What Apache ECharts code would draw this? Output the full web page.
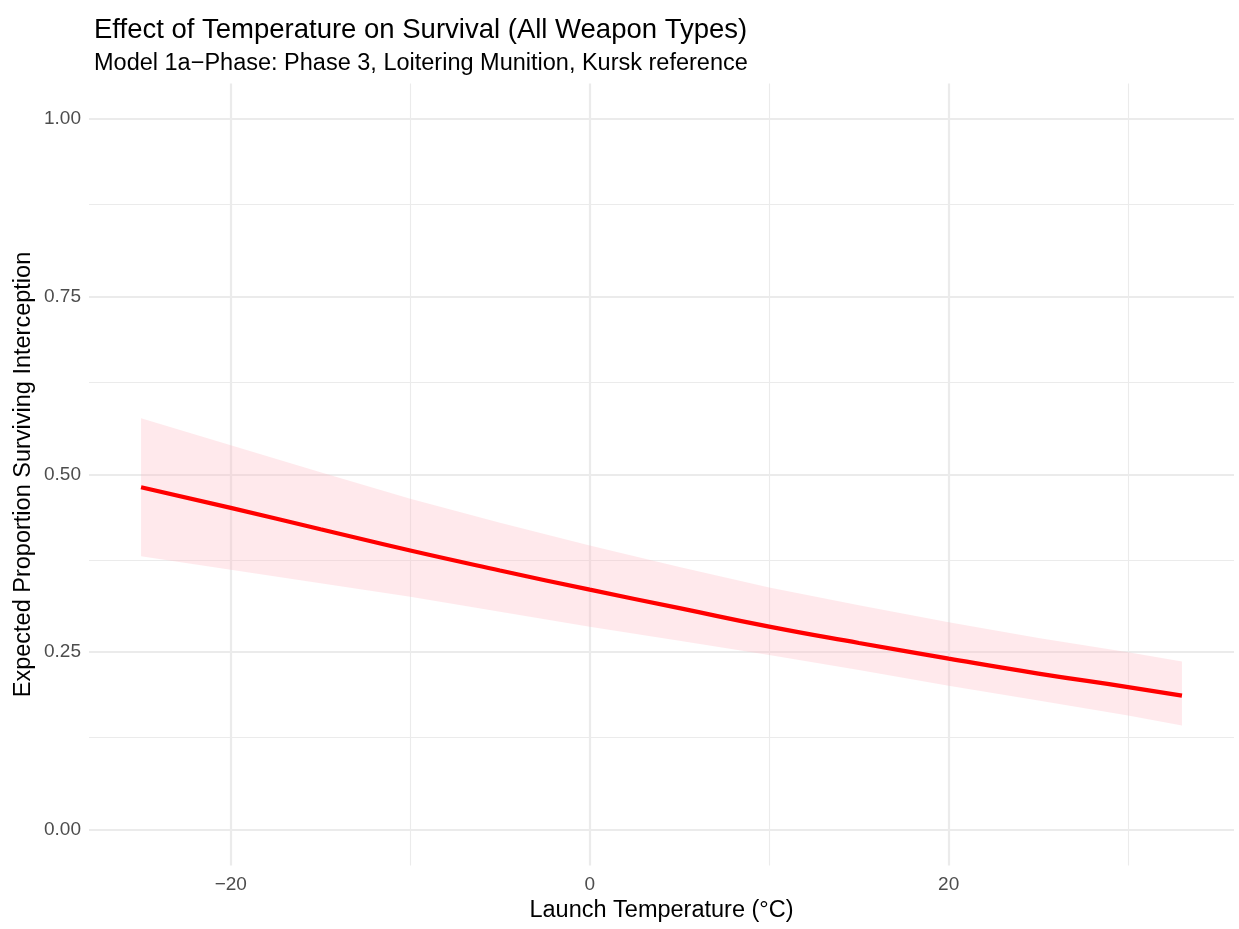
<!DOCTYPE html>
<html>
<head>
<meta charset="utf-8">
<title>Effect of Temperature on Survival</title>
<script src="https://cdn.jsdelivr.net/npm/echarts@6/dist/echarts.min.js"></script>
<style>
  html, body { margin: 0; padding: 0; background: #ffffff; }
  #chart { width: 1239px; height: 929px; }
</style>
</head>
<body>
<div id="chart"></div>
<script>
// Launch temperature (°C) and the predicted survival with its confidence band
const temps = [-25, -20, -15, -10, -5, 0, 5, 10, 15, 20, 25, 30, 33];
const fit   = [0.482, 0.453, 0.423, 0.393, 0.365, 0.338, 0.312, 0.286, 0.263, 0.241, 0.220, 0.201, 0.189];
const upper = [0.579, 0.541, 0.503, 0.466, 0.432, 0.400, 0.370, 0.341, 0.316, 0.292, 0.270, 0.250, 0.237];
const lower = [0.385, 0.366, 0.347, 0.328, 0.307, 0.286, 0.266, 0.246, 0.225, 0.203, 0.182, 0.161, 0.147];

// Axis breaks
const xMajor = [-20, 0, 20];
const xMinor = [-10, 10, 30];
const yMajor = [0, 0.25, 0.5, 0.75, 1];
const yMinor = [0.125, 0.375, 0.625, 0.875];
const xLimits = [-27.9, 35.9];
const yLimits = [-0.05, 1.05];

const FONT = 'Liberation Sans, Arial, Helvetica, sans-serif';
const fmtX = v => (v < 0 ? '\u2212' + Math.abs(v) : String(v));
const fmtY = v => v.toFixed(2);

const gridColor = '#EBEBEB';
const tickFont = { color: '#4D4D4D', fontSize: 19, fontFamily: FONT };

const gridLines = [].concat(
  xMinor.map(v => ({ xAxis: v, lineStyle: { width: 1.1 }, label: { show: false } })),
  yMinor.map(v => ({ yAxis: v, lineStyle: { width: 1.1 }, label: { show: false } })),
  xMajor.map(v => ({ xAxis: v, lineStyle: { width: 2.2 },
    label: Object.assign({ show: true, position: 'start', distance: 10, formatter: fmtX(v) }, tickFont) })),
  yMajor.map(v => ({ yAxis: v, lineStyle: { width: 2.2 },
    label: Object.assign({ show: true, position: 'start', distance: 8, formatter: fmtY(v) }, tickFont) }))
);

const pair = arr => temps.map((t, i) => [t, arr[i]]);

// Confidence ribbon: upper edge left to right, then lower edge back
function renderBand(params, api) {
  const pts = [];
  for (let i = 0; i < temps.length; i++) pts.push(api.coord([temps[i], upper[i]]));
  for (let i = temps.length - 1; i >= 0; i--) pts.push(api.coord([temps[i], lower[i]]));
  return {
    type: 'polygon',
    shape: { points: pts, smooth: 0 },
    style: { fill: 'rgba(255, 182, 193, 0.30)', stroke: null }
  };
}

const chart = echarts.init(document.getElementById('chart'), null, { renderer: 'canvas' });
chart.setOption({
  backgroundColor: '#ffffff',
  animation: false,
  title: [
    { text: 'Effect of Temperature on Survival (All Weapon Types)', left: 89, top: 11,
      textStyle: { fontSize: 27.5, lineHeight: 28, fontWeight: 'normal', color: '#000000', fontFamily: FONT } },
    { text: 'Model 1a\u2212Phase: Phase 3, Loitering Munition, Kursk reference', left: 89, top: 47,
      textStyle: { fontSize: 23.5, lineHeight: 24, fontWeight: 'normal', color: '#000000', fontFamily: FONT } }
  ],
  grid: { left: 89, right: 5, top: 83.5, bottom: 63.5, containLabel: false },
  xAxis: {
    type: 'value', min: xLimits[0], max: xLimits[1],
    name: 'Launch Temperature (\u00B0C)', nameLocation: 'middle', nameGap: 33,
    nameTextStyle: { fontSize: 23.5, color: '#000000', fontFamily: FONT },
    axisLine: { show: false }, axisTick: { show: false }, axisLabel: { show: false }, splitLine: { show: false }
  },
  yAxis: {
    type: 'value', min: yLimits[0], max: yLimits[1],
    name: 'Expected Proportion Surviving Interception', nameLocation: 'middle', nameGap: 53,
    nameTextStyle: { fontSize: 23.5, color: '#000000', fontFamily: FONT },
    axisLine: { show: false }, axisTick: { show: false }, axisLabel: { show: false }, splitLine: { show: false }
  },
  series: [
    {
      name: 'grid', type: 'line', data: [], z: 0, silent: true,
      markLine: {
        silent: true, symbol: ['none', 'none'], animation: false, z: 0,
        lineStyle: { color: gridColor, type: 'solid' },
        emphasis: { disabled: true },
        data: gridLines
      }
    },
    {
      name: 'band', type: 'custom', data: [0], z: 1, silent: true,
      renderItem: renderBand
    },
    {
      name: 'fit', type: 'line', data: pair(fit), symbol: 'none', smooth: true, z: 3,
      lineStyle: { color: '#FF0000', width: 4.2 }
    }
  ]
});
</script>
</body>
</html>
